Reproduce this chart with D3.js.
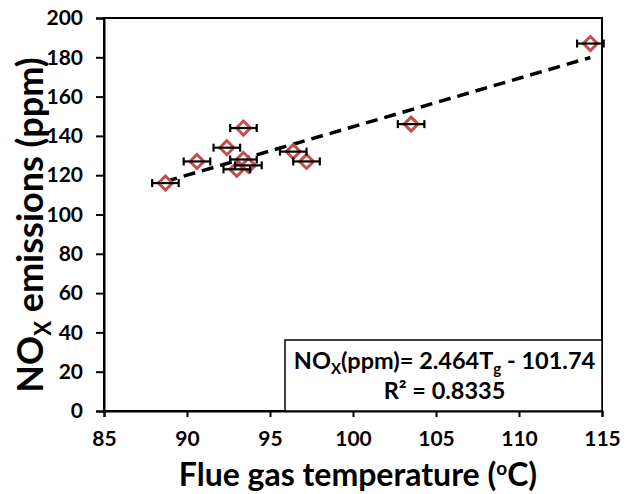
<!DOCTYPE html>
<html><head><meta charset="utf-8">
<script src="https://cdn.jsdelivr.net/npm/d3@7"></script>
<style>body{margin:0;background:#fff;} svg{display:block;font-family:Lato,"Open Sans",sans-serif;font-weight:bold;}</style>
</head><body>
<script>
const tempC = [88.7, 90.6, 92.4, 93.4, 93.4, 93.0, 93.7, 96.4, 97.2, 103.5, 114.3];
const noxPpm = [116, 127, 134, 144, 128, 123, 125, 132, 127, 146, 187];
const tempErr = [0.8, 0.8, 0.8, 0.8, 0.8, 0.8, 0.8, 0.8, 0.8, 0.8, 0.8];
const xTicks = [85, 90, 95, 100, 105, 110, 115];
const yTicks = [0, 20, 40, 60, 80, 100, 120, 140, 160, 180, 200];
const slope = 2.464, intercept = -101.74;

const W = 640, H = 494;
const svg = d3.select("body").append("svg").attr("width", W).attr("height", H);
const x = d3.scaleLinear().domain([85, 115]).range([104, 602]);
const y = d3.scaleLinear().domain([0, 200]).range([411, 18]);

// frame
svg.append("rect").attr("x", x(85)).attr("y", y(200)).attr("width", x(115) - x(85)).attr("height", y(0) - y(200))
  .attr("fill", "none").attr("stroke", "#000").attr("stroke-width", 2);

// axes
const xa = svg.append("g").attr("transform", `translate(0,${y(0)})`)
  .call(d3.axisBottom(x).tickValues(xTicks).tickSize(6).tickPadding(14));
const ya = svg.append("g").attr("transform", `translate(${x(85)},0)`)
  .call(d3.axisLeft(y).tickValues(yTicks).tickSize(8).tickPadding(13));
[xa, ya].forEach(g => {
  g.select(".domain").attr("stroke-width", 2);
  g.selectAll(".tick line").attr("stroke-width", 2);
  g.selectAll("text").attr("font-size", 21).attr("font-family", "Lato").attr("font-weight", "bold").attr("fill", "#000");
});

// equation box
const box = svg.append("g");
box.append("rect").attr("x", 285).attr("y", 340).attr("width", x(115) - 285).attr("height", y(0) - 340)
  .attr("fill", "#fff").attr("stroke", "#000").attr("stroke-width", 1.5);
const cx = (285 + x(115)) / 2 + 1;
const t1 = box.append("text").attr("x", cx).attr("y", 369).attr("text-anchor", "middle").attr("font-size", 23.5);
t1.append("tspan").text("NO");
t1.append("tspan").text("X").attr("font-size", 15).attr("dy", 5);
t1.append("tspan").text("(ppm)= " + slope + "T").attr("dy", -5);
t1.append("tspan").text("g").attr("font-size", 15).attr("dy", 5);
t1.append("tspan").text(" - " + Math.abs(intercept)).attr("dy", -5);
box.append("text").attr("x", cx).attr("y", 399).attr("text-anchor", "middle").attr("font-size", 23.5)
  .text("R² = 0.8335");

// trendline
const xmin = d3.min(tempC), xmax = d3.max(tempC);
svg.append("line").attr("x1", x(xmin)).attr("y1", y(slope * xmin + intercept))
  .attr("x2", x(xmax)).attr("y2", y(slope * xmax + intercept))
  .attr("stroke", "#000").attr("stroke-width", 3.5).attr("stroke-dasharray", "12,7");

const data = tempC.map((t, i) => ({t, n: noxPpm[i], e: tempErr[i]}));
// markers
const pts = svg.append("g").selectAll("g").data(data).join("g");
pts.append("path").attr("d", d => `M${x(d.t)},${y(d.n) - 7}L${x(d.t) + 7},${y(d.n)}L${x(d.t)},${y(d.n) + 7}L${x(d.t) - 7},${y(d.n)}Z`)
  .attr("fill", "#fff").attr("stroke", "#c0504d").attr("stroke-width", 3);
// error bars
const eb = svg.append("g").selectAll("g").data(data).join("g").attr("stroke", "#000").attr("stroke-width", 2.2);
eb.append("line").attr("x1", d => x(d.t - d.e)).attr("x2", d => x(d.t + d.e)).attr("y1", d => y(d.n)).attr("y2", d => y(d.n));
eb.append("line").attr("x1", d => x(d.t - d.e)).attr("x2", d => x(d.t - d.e)).attr("y1", d => y(d.n) - 4).attr("y2", d => y(d.n) + 4);
eb.append("line").attr("x1", d => x(d.t + d.e)).attr("x2", d => x(d.t + d.e)).attr("y1", d => y(d.n) - 4).attr("y2", d => y(d.n) + 4);

// axis titles
const xt = svg.append("text").attr("x", 358).attr("y", 486).attr("text-anchor", "middle").attr("font-size", 32);
xt.append("tspan").text("Flue gas temperature (");
xt.append("tspan").text("o").attr("font-size", 19).attr("dy", -11);
xt.append("tspan").text("C)").attr("dy", 11);

const yt = svg.append("text").attr("transform", "translate(43,225) rotate(-90)").attr("text-anchor", "middle").attr("font-size", 36);
yt.append("tspan").text("NO");
yt.append("tspan").text("X").attr("font-size", 22).attr("dy", 8);
yt.append("tspan").text(" emissions (ppm)").attr("dy", -8);
</script>
</body></html>
